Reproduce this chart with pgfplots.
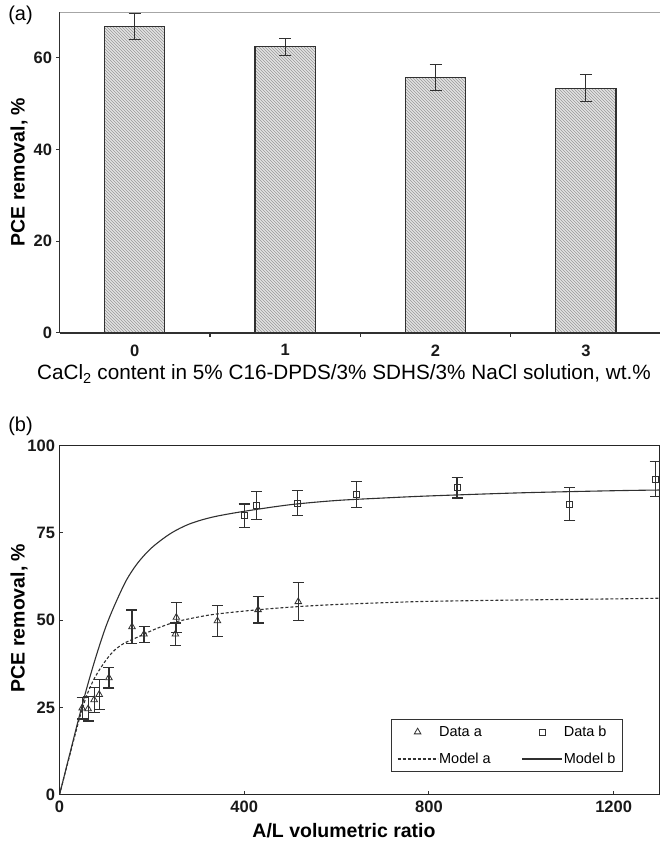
\documentclass[border=0pt]{standalone}
\usepackage{pgfplots}
\pgfplotsset{compat=1.18}
\usepackage{fontspec}
\setmainfont{Liberation Sans}
\usetikzlibrary{patterns}
\definecolor{dk}{HTML}{303030}
\pgfplotsset{lineleg/.style={legend image code/.code={\draw[##1] (0pt,0pt) -- (40pt,0pt);}},
  markleg/.style={legend image code/.code={\draw[##1] plot coordinates {(20pt,0pt)};}}}
\begin{document}
\begin{tikzpicture}[x=1pt,y=1pt]
\useasboundingbox (0,0) rectangle (659,841);
% ---------------- panel (a)
\begin{axis}[
  at={(59.5pt,508pt)}, anchor=south west, scale only axis,
  width=601.6pt, height=321pt,
  xmin=-0.5, xmax=3.5, ymin=0, ymax=70,
  axis x line*=bottom, axis y line*=left,
  axis line style={line width=1.3pt, color=dk},
  xtick={0,1,2,3}, major x tick style={draw=none},
  minor xtick={0.5,1.5,2.5},
  minor x tick style={line width=1.2pt, color=dk},
  minor tick length=4pt,
  ytick={0,20,40,60},
  y tick style={line width=1pt, color=dk},
  ytick pos=left, xtick pos=bottom,
  tick align=outside, major tick length=3pt,
  /pgf/number format/assume math mode=true,
  tick label style={font=\bfseries\fontsize{16.5}{16.5}\selectfont, color=black!90},
  xticklabel style={yshift=-5pt},
  yticklabel style={xshift=-1pt},
]
\addplot[ybar, bar width=0.4, draw=dk, line width=1.1pt, fill=gray!22,
  postaction={pattern=north west lines, pattern color=gray!80},
  error bars/.cd, y dir=both, y explicit,
  error bar style={line width=0.9pt, color=dk},
  error mark options={rotate=90, mark size=6pt, line width=0.9pt, color=dk}]
coordinates {
 (0,66.9) +- (0,2.8)
 (1,62.4) +- (0,1.8)
 (2,55.7) +- (0,2.8)
 (3,53.4) +- (0,2.9)
};
\draw[line width=0.8pt, color=gray!70] (rel axis cs:0,1) -- (rel axis cs:1,1);
\end{axis}
\node[font=\fontsize{20.7}{20.7}\selectfont, anchor=base] at (344,461)
  {CaCl\textsubscript{2} content in 5\% C16-DPDS/3\% SDHS/3\% NaCl solution, wt.\%};
\node[font=\bfseries\fontsize{19.5}{19.5}\selectfont, rotate=90] at (19,669) {PCE removal, \%};
\node[font=\fontsize{20}{20}\selectfont] at (20.5,826) {(a)};
% ---------------- panel (b)
\begin{axis}[
  at={(59.5pt,46.3pt)}, anchor=south west, scale only axis,
  width=600.3pt, height=349pt,
  xmin=0, xmax=1300, ymin=0, ymax=100,
  axis line style={line width=1.6pt, color=black!85},
  xtick={0,400,800,1200}, ytick={0,25,50,75,100},
  xtick pos=bottom, ytick pos=left,
  tick align=inside, major tick length=4pt,
  tick style={line width=1pt, color=dk},
  /pgf/number format/assume math mode=true,
  /pgf/number format/set thousands separator={},
  tick label style={font=\bfseries\fontsize{16.5}{16.5}\selectfont, color=black!90},
  xticklabel style={yshift=-3pt},
  yticklabel style={xshift=-1pt},
  legend columns=2,
  legend cell align=left,
  legend style={at={(0.5515,0.2155)}, anchor=north west,
    draw=black!80, line width=1pt,
    font=\fontsize{14.5}{14.5}\selectfont,
    inner xsep=6pt, inner ysep=5pt, row sep=13pt,
    nodes={inner sep=1pt, anchor=west},
    /tikz/every even column/.append style={column sep=30pt}},
]
\addplot[only marks, mark=triangle, mark size=3.8pt, color=dk, mark options={line width=0.8pt},
  markleg,
  error bars/.cd, y dir=both, y explicit,
  error bar style={line width=1.2pt, color=dk},
  error mark options={rotate=90, mark size=5.5pt, line width=1.2pt, color=dk}]
coordinates {
 (49,24.8) +- (0,3.1)
 (62,24.6) +- (0,3.5)
 (75,27.2) +- (0,3.6)
 (86,28.7) +- (0,4.3)
 (107,33.5) +- (0,2.9)
 (157,48.1) +- (0,4.8)
 (183,46.0) +- (0,2.3)
 (251,46.0) +- (0,3.2)
 (253,50.8) +- (0,4.3)
 (342,49.8) +- (0,4.5)
 (430,53.0) +- (0,3.8)
 (517,55.3) +- (0,5.4)
};
\addlegendentry{Data a}
\addplot[only marks, mark=square, mark size=3pt, color=dk, mark options={line width=0.8pt},
  markleg,
  error bars/.cd, y dir=both, y explicit,
  error bar style={line width=1.2pt, color=dk},
  error mark options={rotate=90, mark size=5.5pt, line width=1.2pt, color=dk}]
coordinates {
 (400,79.9) +- (0,3.4)
 (427,82.8) +- (0,4.0)
 (515,83.6) +- (0,3.5)
 (643,86.1) +- (0,3.7)
 (861,88.0) +- (0,3.0)
 (1105,83.3) +- (0,4.8)
 (1290,90.4) +- (0,5.0)
};
\addlegendentry{Data b}
\addplot[smooth, densely dashed, line width=1.1pt, color=dk, mark=none, lineleg]
coordinates {
 (0,0) (20,10.2) (40,20.3) (50,24.8) (60,28.8) (75,33.2) (90,36.5) (105,39.3)
 (120,41.5) (140,43.4) (160,44.6) (183,46) (210,47.6) (251,49.5) (300,50.9)
 (342,51.8) (430,53) (517,53.9) (600,54.5) (700,55) (800,55.4) (1000,55.8)
 (1200,56.1) (1300,56.3)
};
\addlegendentry{Model a}
\addplot[smooth, solid, line width=1.1pt, color=dk, mark=none, lineleg]
coordinates {
 (0,0) (20,10.5) (40,21) (60,31) (80,40) (100,48) (120,54.5) (145,61.5)
 (170,66.5) (200,70.8) (240,74.8) (280,77.5) (330,79.5) (400,81.2) (500,83.1)
 (600,84.3) (700,85) (800,85.6) (1000,86.5) (1200,87.1) (1300,87.3)
};
\addlegendentry{Model b}
\end{axis}
\node[font=\bfseries\fontsize{19.5}{19.5}\selectfont, anchor=base] at (344,3) {A/L volumetric ratio};
\node[font=\bfseries\fontsize{19.5}{19.5}\selectfont, rotate=90] at (19,223) {PCE removal, \%};
\node[font=\fontsize{20}{20}\selectfont] at (20.5,415) {(b)};
\end{tikzpicture}
\end{document}
